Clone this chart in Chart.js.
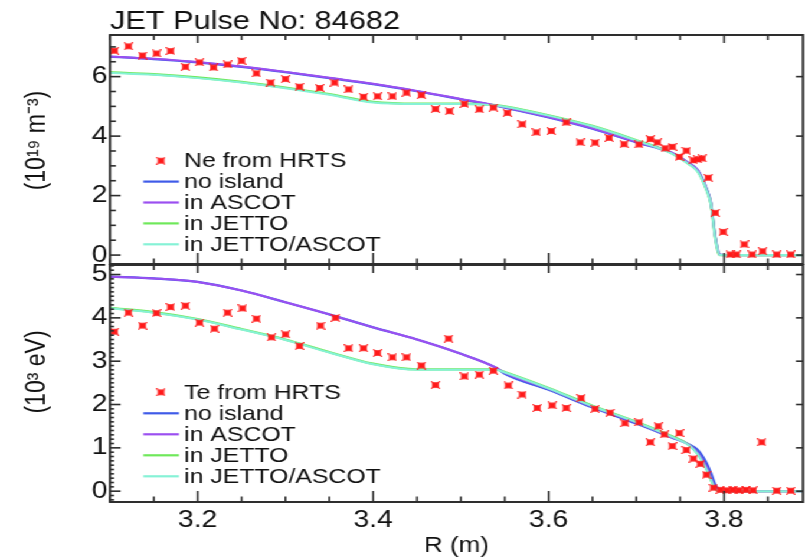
<!DOCTYPE html>
<html><head><meta charset="utf-8">
<script src="https://cdn.jsdelivr.net/npm/chart.js@4.4.0/dist/chart.umd.min.js"></script>
<style>
html,body{margin:0;padding:0;background:#fff;overflow:hidden;width:805px;height:557px;}
#wrap{position:absolute;left:0;top:0;width:682px;height:557px;transform:scaleX(1.18035);transform-origin:0 0;}
#c1{position:absolute;left:0;top:0;width:682px;height:265px;}
#c2{position:absolute;left:0;top:264px;width:682px;height:293px;}
</style></head><body>
<div id="wrap"><canvas id="c1" width="682" height="265"></canvas><canvas id="c2" width="682" height="293"></canvas></div>
<script>
// ---------- text ----------
const titleText = 'JET Pulse No: 84682';
const xAxisTitle = 'R (m)';
const neAxisTitle = '(10¹⁹ m⁻³)';
const teAxisTitle = '(10³ eV)';
const neLabels = ['Ne from HRTS', 'no island', 'in ASCOT', 'in JETTO', 'in JETTO/ASCOT'];
const teLabels = ['Te from HRTS', 'no island', 'in ASCOT', 'in JETTO', 'in JETTO/ASCOT'];
// ---------- ticks ----------
const xTicks = [3.2, 3.4, 3.6, 3.8];
const neTicks = [0, 2, 4, 6];
const teTicks = [0, 1, 2, 3, 4, 5];
// ---------- model curves ----------
const modelR = [3.10, 3.15, 3.20, 3.25, 3.30, 3.35, 3.40, 3.45, 3.50, 3.54, 3.55, 3.60, 3.65, 3.70, 3.74, 3.76, 3.77, 3.78, 3.785, 3.79, 3.795, 3.80, 3.85, 3.89];
const neNoIsland   = [6.67, 6.59, 6.48, 6.33, 6.15, 5.95, 5.75, 5.51, 5.24, 5.02, 4.96, 4.63, 4.25, 3.79, 3.44, 3.09, 2.86, 2.24, 1.76, 0.62, 0.02, 0, 0, 0];
const neAscot      = [6.68, 6.60, 6.49, 6.34, 6.16, 5.96, 5.76, 5.52, 5.25, 5.03, 4.97, 4.64, 4.26, 3.80, 3.45, 3.08, 2.85, 2.22, 1.74, 0.60, 0.01, 0, 0, 0];
const neJetto      = [6.15, 6.08, 5.97, 5.82, 5.63, 5.41, 5.15, 5.09, 5.09, 5.04, 5.00, 4.70, 4.34, 3.86, 3.43, 3.06, 2.82, 2.20, 1.72, 0.58, 0, 0, 0, 0];
const neJettoAscot = [6.13, 6.06, 5.95, 5.80, 5.61, 5.39, 5.13, 5.08, 5.08, 5.03, 4.99, 4.69, 4.33, 3.85, 3.42, 3.05, 2.80, 2.18, 1.70, 0.56, 0, 0, 0, 0];
const teNoIsland   = [4.95, 4.91, 4.83, 4.63, 4.36, 4.08, 3.78, 3.50, 3.17, 2.85, 2.71, 2.34, 1.93, 1.56, 1.24, 1.08, 0.95, 0.65, 0.42, 0.15, 0.02, 0, 0, 0];
const teAscot      = [4.95, 4.91, 4.83, 4.63, 4.36, 4.08, 3.78, 3.50, 3.17, 2.85, 2.73, 2.36, 1.95, 1.58, 1.25, 1.07, 0.88, 0.56, 0.30, 0.08, 0, 0, 0, 0];
const teJetto      = [4.23, 4.13, 3.97, 3.74, 3.50, 3.21, 2.94, 2.81, 2.81, 2.81, 2.75, 2.38, 1.97, 1.60, 1.27, 1.07, 0.86, 0.51, 0.27, 0.06, 0, 0, 0, 0];
const teJettoAscot = [4.22, 4.12, 3.96, 3.73, 3.49, 3.20, 2.93, 2.80, 2.80, 2.80, 2.74, 2.37, 1.96, 1.59, 1.26, 1.06, 0.85, 0.50, 0.26, 0.05, 0, 0, 0, 0];
// ---------- HRTS measurements ----------
const hrtsNeR = [3.105, 3.121, 3.137, 3.153, 3.169, 3.186, 3.202, 3.218, 3.234, 3.250, 3.267, 3.283, 3.300, 3.316, 3.339, 3.356, 3.372, 3.389, 3.405, 3.422, 3.438, 3.455, 3.471, 3.487, 3.504, 3.521, 3.537, 3.553, 3.570, 3.586, 3.603, 3.620, 3.636, 3.653, 3.669, 3.686, 3.703, 3.716, 3.724, 3.733, 3.741, 3.749, 3.757, 3.765, 3.770, 3.775, 3.782, 3.790, 3.799, 3.807, 3.814, 3.823, 3.832, 3.844, 3.860, 3.876];
const hrtsNe  = [6.87, 7.02, 6.71, 6.78, 6.86, 6.33, 6.48, 6.31, 6.41, 6.53, 6.11, 5.80, 5.92, 5.66, 5.62, 5.80, 5.57, 5.32, 5.34, 5.34, 5.46, 5.38, 4.91, 4.84, 5.08, 4.90, 4.96, 4.78, 4.40, 4.13, 4.17, 4.46, 3.79, 3.78, 3.94, 3.73, 3.72, 3.90, 3.79, 3.59, 3.64, 3.30, 3.51, 3.19, 3.22, 3.25, 2.60, 1.42, 0.78, 0.02, 0.02, 0.36, 0.02, 0.13, 0.02, 0.02];
const hrtsTeR = [3.105, 3.121, 3.137, 3.153, 3.169, 3.186, 3.202, 3.219, 3.234, 3.251, 3.267, 3.284, 3.300, 3.316, 3.340, 3.357, 3.372, 3.389, 3.405, 3.422, 3.438, 3.455, 3.471, 3.486, 3.504, 3.521, 3.537, 3.554, 3.570, 3.587, 3.604, 3.620, 3.637, 3.653, 3.670, 3.687, 3.703, 3.716, 3.725, 3.732, 3.741, 3.749, 3.757, 3.765, 3.773, 3.780, 3.788, 3.796, 3.803, 3.810, 3.817, 3.825, 3.833, 3.843, 3.860, 3.876];
const hrtsTe  = [3.68, 4.12, 3.82, 4.11, 4.25, 4.28, 3.89, 3.75, 4.12, 4.22, 3.98, 3.55, 3.62, 3.35, 3.82, 4.00, 3.30, 3.30, 3.19, 3.09, 3.09, 2.90, 2.45, 3.52, 2.65, 2.69, 2.78, 2.44, 2.23, 1.92, 1.98, 1.92, 2.15, 1.90, 1.81, 1.57, 1.59, 1.13, 1.50, 1.31, 1.04, 1.34, 0.95, 0.75, 0.63, 0.38, 0.08, 0.03, 0.02, 0.03, 0.02, 0.03, 0.02, 1.13, 0.01, 0.01];

// ---------- styles ----------
const FONT = 'Liberation Sans, Arial, Helvetica, sans-serif';
const TXT = '#111111';
const colHrts = '#ff1a1a', colNoIsland = '#3f5be8', colAscot = '#9b4ff0', colJetto = '#6fe85a', colJettoAscot = '#86f2d6';
const colFrame = '#2e2e2e';

function makeMarker() {
  const c = document.createElement('canvas'); c.width = 8; c.height = 8;
  const g = c.getContext('2d');
  g.fillStyle = colHrts; g.strokeStyle = colHrts; g.lineWidth = 1.2;
  g.fillRect(1.2, 1.2, 5.6, 5.6);
  g.beginPath(); g.moveTo(0.3, 0.3); g.lineTo(7.7, 7.7); g.moveTo(7.7, 0.3); g.lineTo(0.3, 7.7); g.stroke();
  return c;
}
const marker = makeMarker();

const zip = (xs, ys) => xs.map((x, i) => ({x: x, y: ys[i]}));

function buildDatasets(labels, hR, hV, noIsl, asc, jet, jetAsc) {
  const line = (label, data, color, width, order) => ({
    label, data: zip(modelR, data), showLine: true, borderColor: color, backgroundColor: color,
    borderWidth: width, pointRadius: 0, fill: false, cubicInterpolationMode: 'monotone', order
  });
  return [
    {label: labels[0], data: zip(hR, hV), showLine: false, pointStyle: marker, pointRadius: 4, order: 0, borderColor: colHrts, backgroundColor: colHrts},
    line(labels[1], noIsl, colNoIsland, 2.2, 4),
    line(labels[2], asc, colAscot, 2, 2),
    line(labels[3], jet, colJetto, 2.4, 3),
    line(labels[4], jetAsc, colJettoAscot, 2, 1)
  ];
}

const panelCfg = {
  c1: {yMinor: 0.5, majors: neTicks, yMinorLen: 5, y0: 160.7, step: 20.9},
  c2: {yMinor: 0.1, majors: teTicks, yMinorLen: 3.5, y0: 128.3, step: 21}
};
const legendX = {markerX: 136.4, lineX1: 121.4, lineX2: 151.6, textX: 156.1};

// box frame with inward ticks on all sides + legend inside the plot area
const decorPlugin = {
  id: 'decor',
  afterDraw(chart) {
    const o = panelCfg[chart.canvas.id];
    const ctx = chart.ctx;
    const a = chart.chartArea;
    const x = chart.scales.x, y = chart.scales.y;
    const eps = 1e-6;
    ctx.save();
    ctx.fillStyle = colFrame;
    const vline = (px, y1, y2, w) => ctx.fillRect(px - w / 2, Math.min(y1, y2), w, Math.abs(y2 - y1));
    const hline = (py, x1, x2, w) => ctx.fillRect(Math.min(x1, x2), py - w / 2, Math.abs(x2 - x1), w);
    for (let k = Math.ceil(x.min / 0.05 - eps); k * 0.05 <= x.max + eps; k++) {
      const v = k * 0.05, px = x.getPixelForValue(v);
      const major = xTicks.some(t => Math.abs(t - v) < eps);
      vline(px, a.bottom, a.bottom - (major ? 11 : 5.5), 1.6);
      vline(px, a.top, a.top + (major ? 8 : 5), 1.6);
    }
    for (let k = Math.ceil(y.min / o.yMinor - eps); k * o.yMinor <= y.max + eps; k++) {
      const v = k * o.yMinor, py = y.getPixelForValue(v);
      const major = o.majors.some(t => Math.abs(t - v) < eps);
      hline(py, a.left, a.left + (major ? 9 : o.yMinorLen), 1.6);
      if (major) hline(py, a.right, a.right - 6, 1.6);
    }
    vline(a.left, a.top - 1, a.bottom + 1, 2);
    vline(a.right, a.top - 1, a.bottom + 1, 2);
    hline(a.top, a.left, a.right, 2);
    hline(a.bottom, a.left, a.right, 2);

    ctx.font = '21px ' + FONT; ctx.fillStyle = TXT; ctx.textBaseline = 'middle'; ctx.textAlign = 'left';
    chart.data.datasets.forEach((ds, i) => {
      const yy = o.y0 + i * o.step;
      if (ds.showLine) {
        ctx.strokeStyle = ds.borderColor; ctx.lineWidth = 2.2;
        ctx.beginPath(); ctx.moveTo(legendX.lineX1, yy); ctx.lineTo(legendX.lineX2, yy); ctx.stroke();
      } else {
        ctx.drawImage(marker, legendX.markerX - marker.width / 2, yy - marker.height / 2);
      }
      ctx.fillText(ds.label, legendX.textX, yy + 1);
    });
    ctx.restore();
  }
};

function yAxis(min, max, ticks, title) {
  return {
    type: 'linear', min, max,
    afterBuildTicks: s => { s.ticks = ticks.map(v => ({value: v})); },
    afterFit: s => { s.width = 93.2; s.paddingTop = 0; s.paddingBottom = 0; },
    grid: {display: false, drawTicks: false}, border: {display: false},
    ticks: {padding: 2, color: TXT, font: {family: FONT, size: 24}, callback: v => String(v)},
    title: {display: true, text: title, color: TXT, font: {family: FONT, size: 23}, padding: {top: 18, bottom: 0}}
  };
}

const xBase = {type: 'linear', min: 3.1, max: 3.89,
  afterBuildTicks: s => { s.ticks = xTicks.map(v => ({value: v})); },
  grid: {display: false, drawTicks: false}, border: {display: false}};

new Chart(document.getElementById('c1'), {
  type: 'scatter',
  data: {datasets: buildDatasets(neLabels, hrtsNeR, hrtsNe, neNoIsland, neAscot, neJetto, neJettoAscot)},
  plugins: [decorPlugin],
  options: {
    responsive: false, animation: false, events: [], devicePixelRatio: 1,
    layout: {autoPadding: false, padding: {left: 0, right: 1.7, top: 0, bottom: 1}},
    scales: {
      x: Object.assign({}, xBase, {display: false}),
      y: yAxis(-0.3, 7.4, neTicks, '\u2002 ' + neAxisTitle)
    },
    plugins: {
      legend: {display: false}, tooltip: {enabled: false},
      title: {display: true, text: titleText, align: 'start', fullSize: false, color: TXT,
        font: {family: FONT, size: 26, weight: 'normal', lineHeight: 1}, padding: {top: 9, bottom: 0}}
    }
  }
});

new Chart(document.getElementById('c2'), {
  type: 'scatter',
  data: {datasets: buildDatasets(teLabels, hrtsTeR, hrtsTe, teNoIsland, teAscot, teJetto, teJettoAscot)},
  plugins: [decorPlugin],
  options: {
    responsive: false, animation: false, events: [], devicePixelRatio: 1,
    layout: {autoPadding: false, padding: {left: 0, right: 1.7, top: 1, bottom: 0}},
    scales: {
      x: Object.assign({}, xBase, {
        afterFit: s => { s.height = 55; s.paddingLeft = 0; s.paddingRight = 0; },
        ticks: {padding: 4, color: TXT, font: {family: FONT, size: 24}, maxRotation: 0, autoSkip: false, callback: v => v.toFixed(1)},
        title: {display: true, text: xAxisTitle, color: TXT, font: {family: FONT, size: 22, lineHeight: 1}, padding: {top: 0, bottom: 0}}
      }),
      y: yAxis(-0.25, 5.22, teTicks, '\u2002\u2002' + teAxisTitle)
    },
    plugins: {
      legend: {display: false}, tooltip: {enabled: false}, title: {display: false}
    }
  }
});
</script>
</body></html>
